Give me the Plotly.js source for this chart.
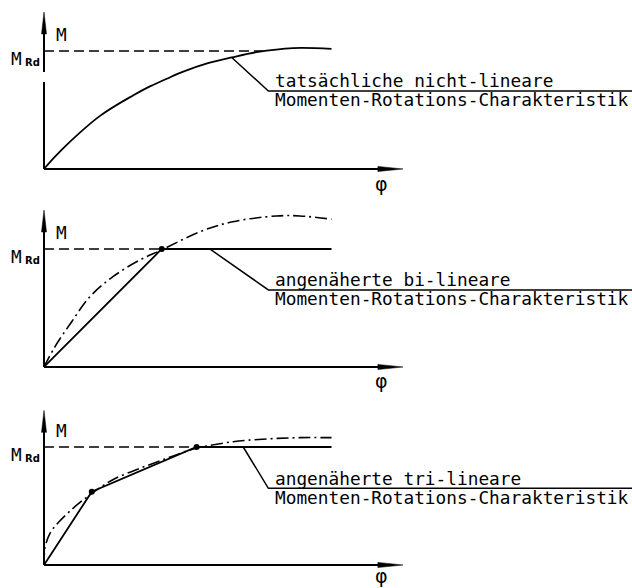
<!DOCTYPE html>
<html><head><meta charset="utf-8">
<script src="https://cdn.plot.ly/plotly-3.0.1.min.js"></script>
<style>html,body{margin:0;padding:0;background:#fff}</style>
</head><body><div id="chart" style="width:632px;height:588px"></div>
<script>
// ---- data (M normalised to M_Rd = 1, phi in arbitrary units) ----
const realPhi = [0, 0.306, 0.632, 1.56, 2.49, 2.95, 3.42, 3.88, 4.5, 5.23, 5.92, 6.94, 8.01];
const realM   = [0, 0.104, 0.205, 0.45, 0.625, 0.70, 0.765, 0.825, 0.89, 0.945, 0.99, 1.025, 1.018];

const real2Phi = [0, 0.306, 0.772, 1.28, 1.92, 2.67, 3.28, 4.35, 5.26, 6.48, 7.13, 8.01];
const real2M   = [0, 0.172, 0.384, 0.596, 0.765, 0.907, 0.992, 1.147, 1.231, 1.280, 1.280, 1.252];

const real3Phi = [0, 0.03, 0.17, 0.40, 0.77, 1.19, 1.47, 1.93, 2.67, 3.42, 4.07, 4.35, 5.27, 6.20, 7.13, 8.01];
const real3M   = [0, 0.15, 0.27, 0.36, 0.47, 0.575, 0.636, 0.725, 0.819, 0.904, 0.975, 0.997, 1.045, 1.068, 1.079, 1.079];

const biPhi = [0, 3.28, 8.01];
const biM   = [0, 1, 1];
const biKnotPhi = [3.28];
const biKnotM   = [1];

const triPhi = [0, 1.33, 4.25, 8.01];
const triM   = [0, 0.621, 1, 1];
const triKnotPhi = [1.33, 4.25];
const triKnotM   = [0.621, 1];

const mRd = 1;
const dashedEnd = [6.1, 3.28, 4.1];

const leader1Phi = [5.23, 6.25, 16.38]; const leader1M = [0.945, 0.661, 0.661];
const leader2Phi = [4.62, 6.25, 16.38]; const leader2M = [1.0, 0.653, 0.653];
const leader3Phi = [5.55, 6.25, 16.38]; const leader3M = [1.0, 0.650, 0.650];

const labelTop = ["tatsächliche nicht-lineare", "angenäherte bi-lineare", "angenäherte tri-lineare"];
const labelBottom = ["Momenten-Rotations-Charakteristik", "Momenten-Rotations-Charakteristik", "Momenten-Rotations-Charakteristik"];
const axisYLabel = "M";
const axisXLabel = "φ";
const mRdMain = "M";
const mRdSub = "Rd";

// ---- layout helpers ----
const xRange = [-1.226, 16.38];
const yRanges = [[-0.229, 1.432], [-0.212, 1.449], [-0.195, 1.466]];
const yDomains = [[2/3, 1], [1/3, 2/3], [0, 1/3]];
const xTip = 10, yTops = [1.33, 1.33, 1.31];
const xHead = 0.70, xHalf = 0.022, yHead = 0.186, yHalf = 0.07;
const textX = 6.38;
const phiShift = [-15, -14, -11];
const FONT = "DejaVu Sans Mono";
const black = "#000";

const sfx = ["", "2", "3"];
const traces = [];
function line(p, xs, ys, dash, width, shape) {
  traces.push({x: xs, y: ys, xaxis: "x" + sfx[p], yaxis: "y" + sfx[p], type: "scatter", mode: "lines",
    line: {color: black, width: width, dash: dash || "solid", shape: shape || "linear", smoothing: 1},
    hoverinfo: "skip", showlegend: false});
}
function dots(p, xs, ys) {
  traces.push({x: xs, y: ys, xaxis: "x" + sfx[p], yaxis: "y" + sfx[p], type: "scatter", mode: "markers",
    marker: {color: black, size: 6}, hoverinfo: "skip", showlegend: false});
}
const DASH = "10px,5px";
const DASHDOT = "12px,4px,2px,4px";

// panel 1
line(0, [0, dashedEnd[0]], [mRd, mRd], DASH, 1.5);
line(0, realPhi, realM, "solid", 1.8, "spline");
line(0, leader1Phi, leader1M, "solid", 1.5);
// panel 2
line(1, [0, dashedEnd[1]], [mRd, mRd], DASH, 1.5);
line(1, real2Phi, real2M, DASHDOT, 1.6, "spline");
line(1, biPhi, biM, "solid", 1.8);
dots(1, biKnotPhi, biKnotM);
line(1, leader2Phi, leader2M, "solid", 1.5);
// panel 3
line(2, [0, dashedEnd[2]], [mRd, mRd], DASH, 1.5);
line(2, real3Phi, real3M, DASHDOT, 1.6, "spline");
line(2, triPhi, triM, "solid", 1.8);
dots(2, triKnotPhi, triKnotM);
line(2, leader3Phi, leader3M, "solid", 1.5);

const shapes = [], annotations = [];
const leaderY = [leader1M[2], leader2M[2], leader3M[2]];
for (let p = 0; p < 3; p++) {
  const xr = "x" + sfx[p], yr = "y" + sfx[p];
  // x axis
  shapes.push({type: "line", xref: xr, yref: yr, x0: 0, y0: 0, x1: xTip - xHead * 0.5, y1: 0, line: {color: black, width: 2}});
  shapes.push({type: "path", xref: xr, yref: yr, fillcolor: black, line: {color: black, width: 0.5},
    path: `M ${xTip},0 L ${xTip - xHead},${xHalf} L ${xTip - xHead},${-xHalf} Z`});
  // y axis
  const segs = p === 0 ? [[0, 0.737], [0.822, yTops[p] - yHead * 0.5]] : [[0, yTops[p] - yHead * 0.5]];
  segs.forEach(s => shapes.push({type: "line", xref: xr, yref: yr, x0: 0, y0: s[0], x1: 0, y1: s[1], line: {color: black, width: 2}}));
  shapes.push({type: "path", xref: xr, yref: yr, fillcolor: black, line: {color: black, width: 0.5},
    path: `M 0,${yTops[p]} L ${-yHalf},${yTops[p] - yHead} L ${yHalf},${yTops[p] - yHead} Z`});

  const f = {family: FONT, size: 17.8, color: black};
  annotations.push({xref: xr, yref: yr, x: textX, y: leaderY[p], yshift: 10, text: labelTop[p], showarrow: false, xanchor: "left", yanchor: "middle", font: f});
  annotations.push({xref: xr, yref: yr, x: textX, y: leaderY[p], yshift: -9, text: labelBottom[p], showarrow: false, xanchor: "left", yanchor: "middle", font: f});
  annotations.push({xref: xr, yref: yr, x: 0.474, y: 1.14, text: axisYLabel, showarrow: false, xanchor: "center", yanchor: "middle", font: f});
  annotations.push({xref: xr, yref: yr, x: 9.39, y: 0, yshift: phiShift[p], text: axisXLabel, showarrow: false, xanchor: "center", yanchor: "middle",
    font: {family: "DejaVu Sans", size: 19, color: black}});
  annotations.push({xref: xr, yref: yr, x: -0.772, y: mRd, yshift: -8, text: mRdMain, showarrow: false, xanchor: "center", yanchor: "middle", font: f});
  annotations.push({xref: xr, yref: yr, x: -0.32, y: mRd, yshift: -12, text: "<b>" + mRdSub + "</b>", showarrow: false, xanchor: "center", yanchor: "middle",
    font: {family: "DejaVu Sans", size: 10, color: black}});
}

const layout = {
  width: 632, height: 588, autosize: false,
  margin: {l: 0, r: 0, t: 0, b: 0, pad: 0},
  paper_bgcolor: "#fff", plot_bgcolor: "#fff",
  showlegend: false,
  shapes: shapes, annotations: annotations
};
for (let p = 0; p < 3; p++) {
  layout["xaxis" + sfx[p]] = {domain: [0, 1], range: xRange, visible: false, fixedrange: true, anchor: "y" + sfx[p]};
  layout["yaxis" + sfx[p]] = {domain: yDomains[p], range: yRanges[p], visible: false, fixedrange: true, anchor: "x" + sfx[p]};
}
Plotly.newPlot("chart", traces, layout, {staticPlot: true, displayModeBar: false});
</script></body></html>
